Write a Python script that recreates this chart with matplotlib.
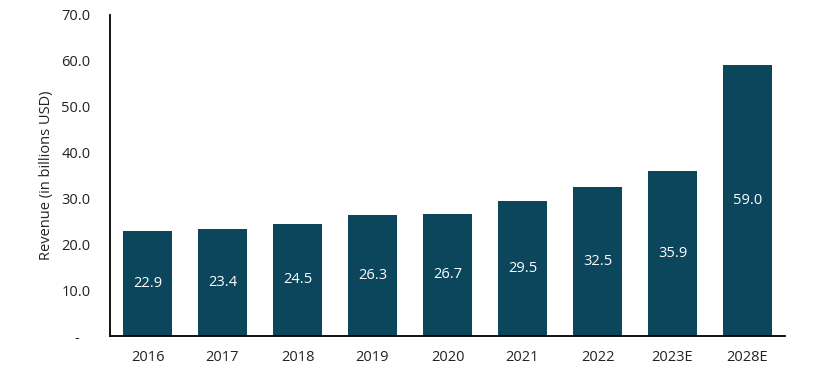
import matplotlib
matplotlib.use("Agg")
import matplotlib.pyplot as plt
from matplotlib.ticker import FuncFormatter

categories = ["2016", "2017", "2018", "2019", "2020", "2021", "2022", "2023E", "2028E"]
revenue = [22.9, 23.4, 24.5, 26.3, 26.7, 29.5, 32.5, 35.9, 59.0]
yticks = [0, 10, 20, 30, 40, 50, 60, 70]

plt.rcParams['font.family'] = ['Open Sans', 'DejaVu Sans']

fig = plt.figure(figsize=(8.33, 3.78), dpi=100)
ax = fig.add_axes([110/833, 1 - 336/378, (785-110)/833, (336-15)/378])

x = list(range(len(categories)))
bars = ax.bar(x, revenue, width=0.65, color="#0b465c")
for xi, v in zip(x, revenue):
    ax.text(xi, v / 2, f"{v:.1f}", ha="center", va="center", color="white", fontsize=10.5)

ax.set_xlim(-0.5, len(categories) - 0.5)
ax.set_ylim(0, 70)
ax.set_yticks(yticks)
ax.yaxis.set_major_formatter(FuncFormatter(lambda v, p: "-   " if v == 0 else f"{v:.1f}"))
ax.set_xticks(x)
ax.set_xticklabels(categories)
ax.tick_params(axis="both", length=0, labelsize=10.5, colors="#222222")
ax.tick_params(axis="x", pad=10)
ax.tick_params(axis="y", pad=14)
ax.set_ylabel("Revenue (in billions USD)", fontsize=10.5, color="#222222", labelpad=5)
for s in ["top", "right"]:
    ax.spines[s].set_visible(False)
for s in ["left", "bottom"]:
    ax.spines[s].set_color("black")
    ax.spines[s].set_linewidth(1.3)

fig.savefig("out.png", dpi=100)
